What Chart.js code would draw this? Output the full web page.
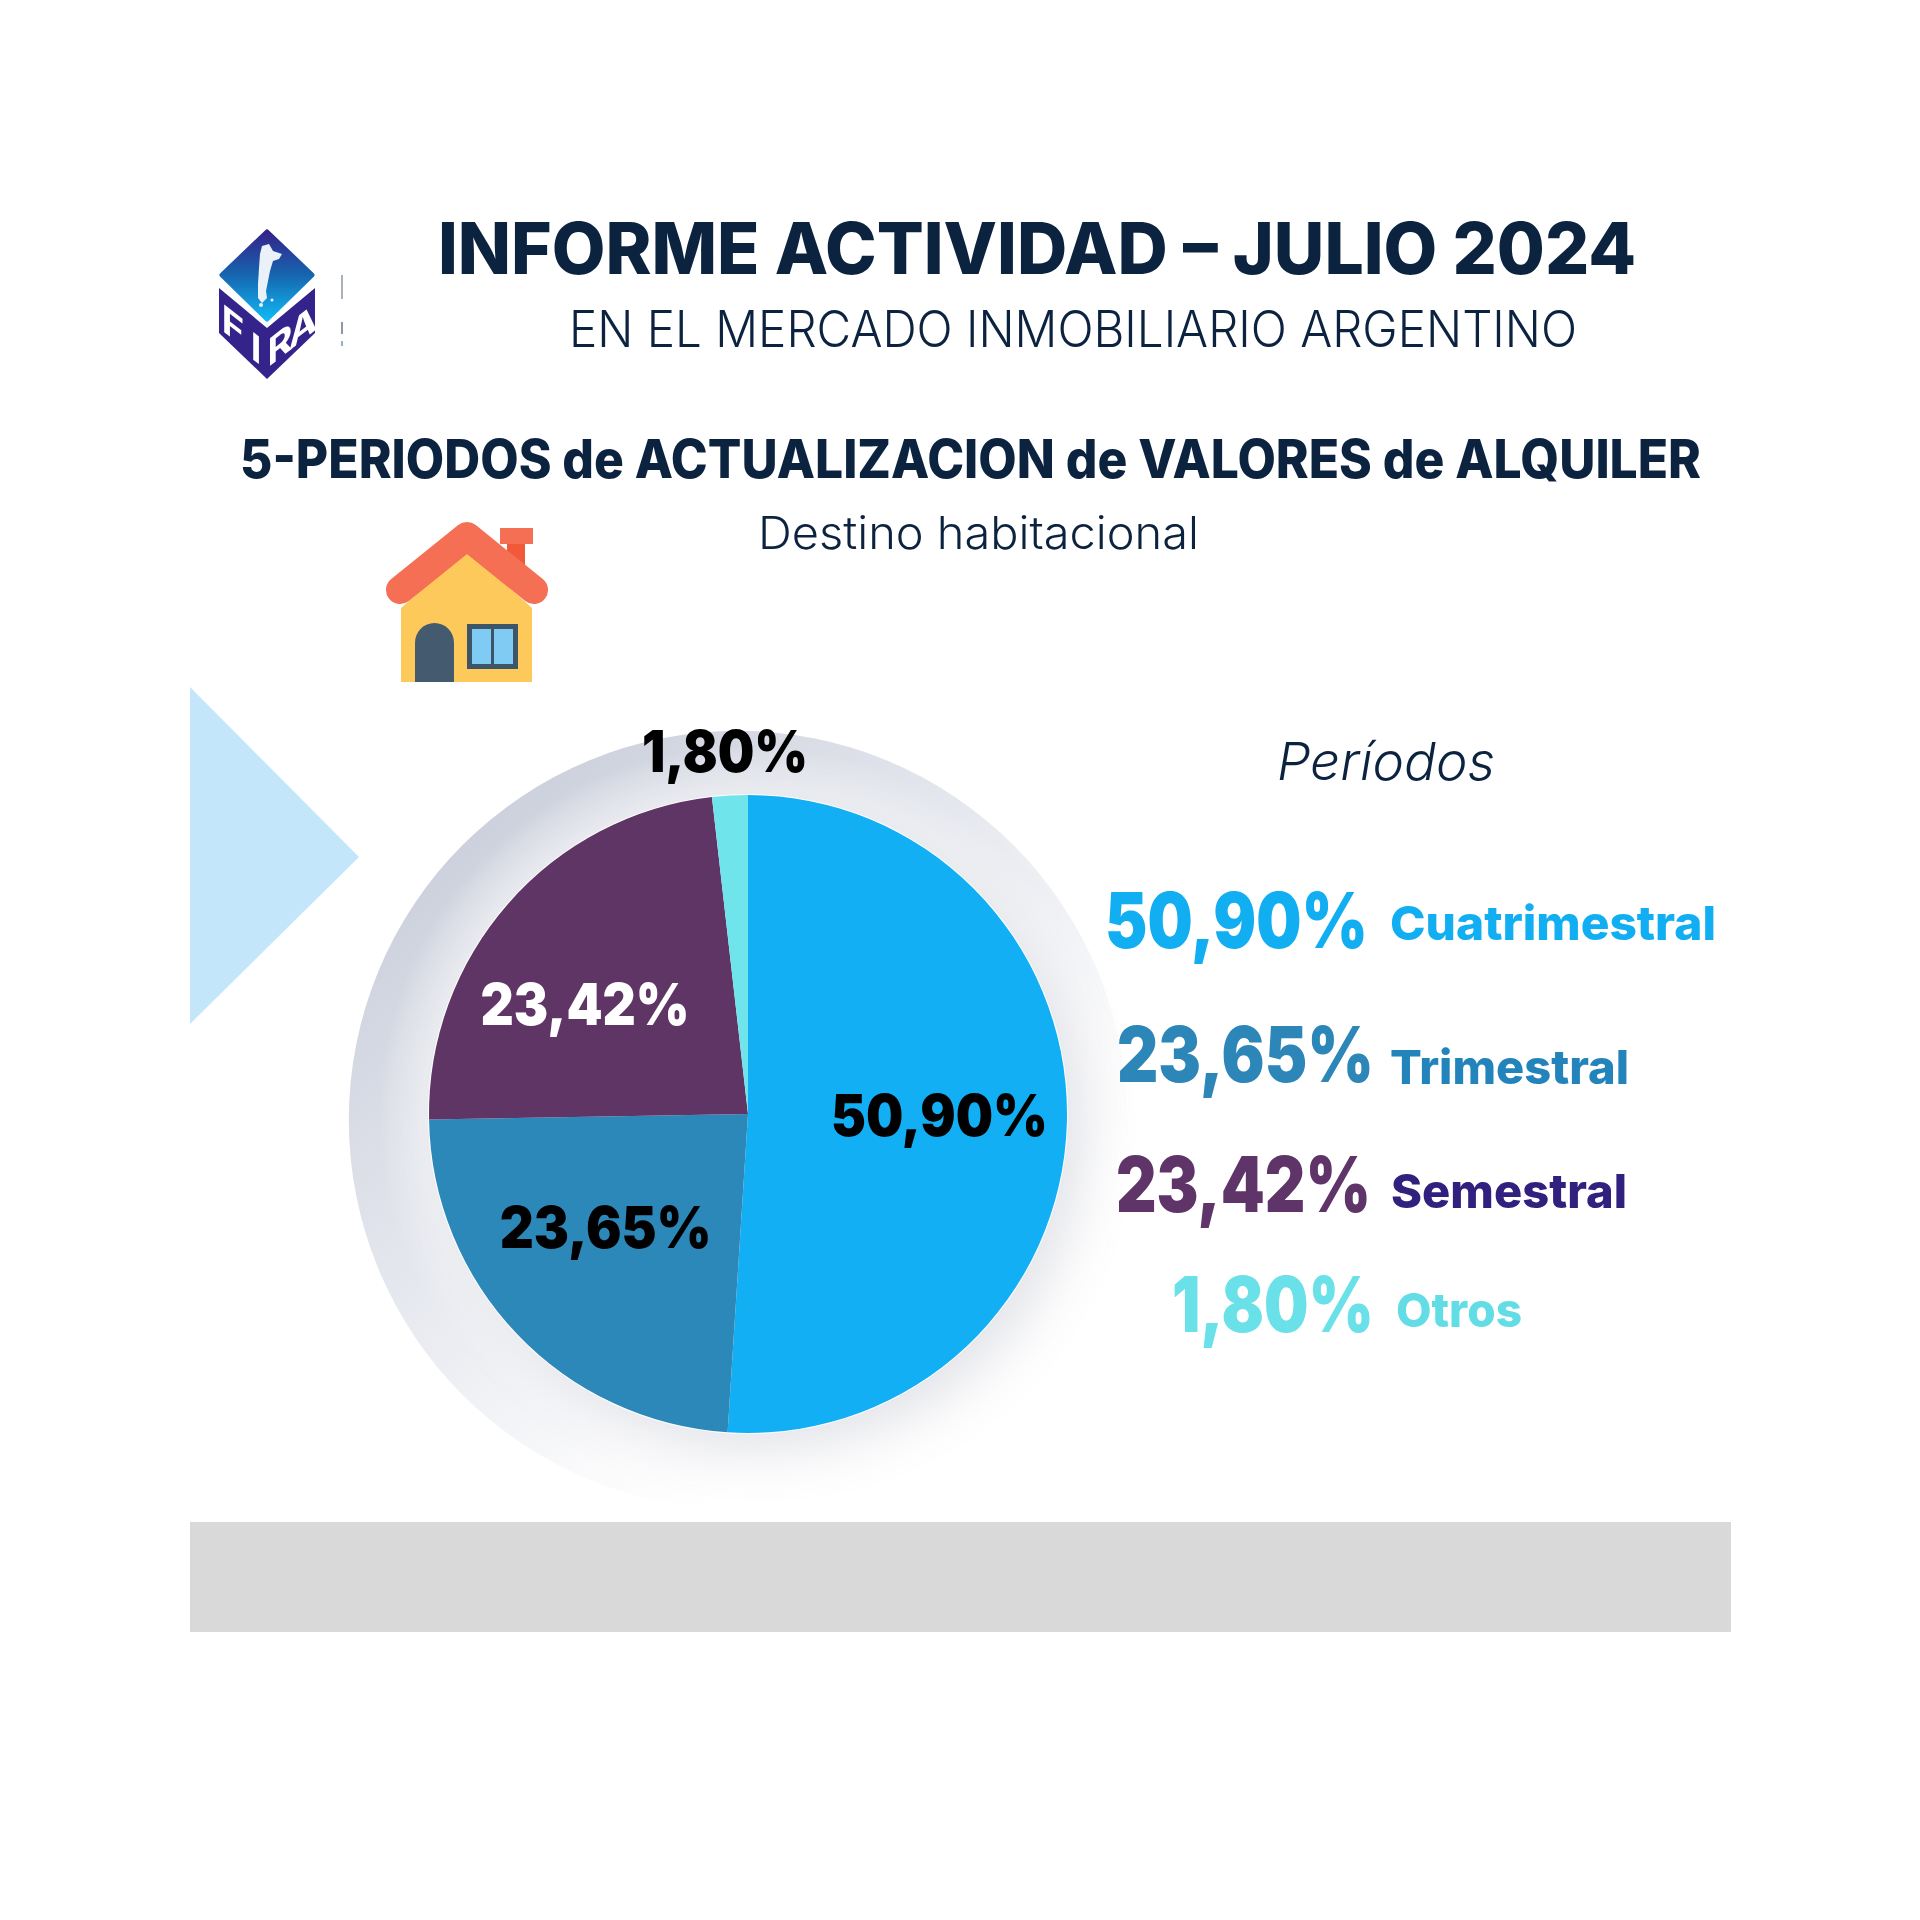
<!DOCTYPE html>
<html lang="es">
<head>
<meta charset="utf-8">
<title>Informe actividad - Julio 2024</title>
<script src="https://cdn.jsdelivr.net/npm/chart.js@4"></script>
<style>
html,body{margin:0;padding:0;background:#fff;width:1920px;height:1920px;overflow:hidden}
#stage{position:relative;width:1920px;height:1920px}
canvas,#overlay{position:absolute;left:0;top:0}
#overlay text{font-family:Inter,"Open Sans",sans-serif}
</style>
</head>
<body>
<div id="stage">
<canvas id="chart" width="1920" height="1920"></canvas>
<svg id="overlay" width="1920" height="1920" viewBox="0 0 1920 1920" xmlns="http://www.w3.org/2000/svg">
  <defs>
    <linearGradient id="logoTop" x1="0" y1="0" x2="0" y2="1">
      <stop offset="0" stop-color="#33238a"/><stop offset=".5" stop-color="#1666b0"/><stop offset="1" stop-color="#10b8f2"/>
    </linearGradient>
  </defs>
  <polygon points="190,687 359,857 190,1024" fill="#c3e6fb"/>
  <rect x="190" y="1522" width="1541" height="110" fill="#d9d9d9"/>
  <!-- logo -->
  <g>
    <polygon points="267,232 312,275 267,319 222,275" fill="url(#logoTop)" stroke="url(#logoTop)" stroke-width="5" stroke-linejoin="round"/>
    <path d="M262 246 l7 -2 l4 7 l9 3 l-3 5 l-6 2 l-3 10 l-2 10 l-2 10 l1 7 l-5 5 l-4 -5 l0 -14 l1 -16 l1 -14 z" fill="#eaf1f8"/>
    <circle cx="261" cy="305" r="2" fill="#eaf1f8"/>
    <circle cx="272" cy="300" r="1.5" fill="#eaf1f8"/>
    <polygon points="219,288 267,328 267,379 219,333" fill="#33238a"/>
    <polygon points="315,288 267,328 267,379 315,333" fill="#33238a"/>
    <text font-size="38" font-weight="700" fill="#fff" text-anchor="middle" transform="translate(233,339) skewY(38)">F</text>
    <text font-size="38" font-weight="700" fill="#fff" text-anchor="middle" transform="translate(256,362) skewY(38)">I</text>
    <text font-size="38" font-weight="700" fill="#fff" text-anchor="middle" transform="translate(280,358) skewY(-38)">R</text>
    <text font-size="38" font-weight="700" fill="#fff" text-anchor="middle" transform="translate(303,340) skewY(-38)">A</text>
    <rect x="341" y="275" width="2" height="24" fill="#a9b1bb"/>
    <rect x="341" y="322" width="2" height="12" fill="#8d98a5"/>
    <rect x="341" y="341" width="2" height="5" fill="#8fb4c4"/>
  </g>
  <!-- house -->
  <g>
    <rect x="507" y="540" width="18" height="42" fill="#f2583a"/>
    <rect x="500" y="528" width="33" height="16" fill="#f56f55"/>
    <polygon points="467,550 532,608 532,682 401,682 401,608" fill="#fdc95b"/>
    <path d="M400 590 L467 536 L534 590" fill="none" stroke="#f56f55" stroke-width="28" stroke-linecap="round" stroke-linejoin="round"/>
    <path d="M415 682 V643 a19.5 20 0 0 1 39 0 V682 Z" fill="#445a6f"/>
    <rect x="467" y="624" width="51" height="45" fill="#3e5468"/>
    <rect x="472" y="629" width="19" height="35" fill="#7fcbf3"/>
    <rect x="494" y="629" width="19" height="35" fill="#7fcbf3"/>
  </g>
</svg>
</div>
<script>
// ---- data ----
const categories = ['Cuatrimestral', 'Trimestral', 'Semestral', 'Otros'];
const shares = [50.90, 23.65, 23.42, 1.80];
const sliceColors = ['#12aff5', '#2d88ba', '#5f3566', '#6fe4eb'];
const percentColors = ['#12aef2', '#2c86b8', '#5f3468', '#6ae0e8'];
const nameColors = ['#12aef2', '#2284ba', '#32207f', '#62dde6'];
const sliceLabelColors = ['#000000', '#000000', '#ffffff', '#000000'];

const mainTitle = 'INFORME ACTIVIDAD – JULIO 2024';
const subTitle = 'EN EL MERCADO INMOBILIARIO ARGENTINO';
const sectionTitle = '5-PERIODOS de ACTUALIZACION de VALORES de ALQUILER';
const destino = 'Destino habitacional';
const legendTitle = 'Períodos';

const fmt = v => v.toFixed(2).replace('.', ',') + '%';

// ---- layout (pixel placement of the surrounding text) ----
const NS = 'http://www.w3.org/2000/svg';
const overlay = document.getElementById('overlay');
function addText(str, x, baseline, width, size, weight, fill, extra) {
  const t = document.createElementNS(NS, 'text');
  t.textContent = str;
  t.setAttribute('x', x);
  t.setAttribute('y', baseline);
  t.setAttribute('textLength', width);
  t.setAttribute('lengthAdjust', 'spacingAndGlyphs');
  t.setAttribute('font-size', size);
  t.setAttribute('font-weight', weight);
  t.setAttribute('fill', fill);
  if (extra) t.setAttribute('font-style', extra);
  overlay.appendChild(t);
}
addText(mainTitle, 438, 274, 1198, 72, 800, '#0c2340');
addText(subTitle, 569, 347, 1008, 50, 300, '#0c2340');
addText(sectionTitle, 240, 478, 1461, 53, 800, '#0c2340');
addText(destino, 758, 549, 441, 45, 300, '#0c2340');
addText(legendTitle, 1277, 780, 218, 52, 300, '#0c2340', 'italic');

const percentBoxes = [[1105, 948, 263], [1117, 1082, 257], [1116, 1212, 255], [1172, 1332, 202]];
const nameBoxes = [[1390, 940, 326, 47], [1390, 1084, 239, 47], [1391, 1208, 236, 47], [1396, 1327, 126, 47]];
categories.forEach((name, i) => {
  const p = percentBoxes[i], n = nameBoxes[i];
  addText(fmt(shares[i]), p[0], p[1], p[2], 77, 900, percentColors[i]);
  addText(name, n[0], n[1], n[2], n[3], 800, nameColors[i]);
});

// ---- chart plugins ----
const sliceLabelNudge = [[32, -1], [-27, 6], [-43, -1], [-14, -200]];
const sliceLabelWidth = [217, 212, 209, 166];

const haloPlugin = {
  id: 'halo',
  beforeDatasetsDraw(chart) {
    const ctx = chart.ctx;
    const arc = chart.getDatasetMeta(0).data[0];
    const cx = arc.x, cy = arc.y, R = arc.outerRadius;
    ctx.save();
    const hx = cx - 10, hy = cy + 6, hr = R * 1.22;
    const g = ctx.createLinearGradient(hx - hr * .6, hy - hr * .85, hx + hr * .7, hy + hr * .65);
    g.addColorStop(0, '#ccd0dc');
    g.addColorStop(.3, '#dfe2ea');
    g.addColorStop(.55, '#eef0f4');
    g.addColorStop(.75, '#fbfbfc');
    g.addColorStop(.88, '#ffffff');
    ctx.fillStyle = g;
    ctx.beginPath(); ctx.arc(hx, hy, hr, 0, Math.PI * 2); ctx.fill();
    // lighter band hugging the pie
    const glow = ctx.createRadialGradient(cx, cy, R, cx, cy, R + 50);
    glow.addColorStop(0, 'rgba(255,255,255,.6)');
    glow.addColorStop(1, 'rgba(255,255,255,0)');
    ctx.fillStyle = glow;
    ctx.beginPath(); ctx.arc(hx, hy, hr, 0, Math.PI * 2); ctx.fill();
    // soft shadow on the lower right, thin white edge under the pie
    ctx.shadowColor = 'rgba(95,100,125,.18)';
    ctx.shadowBlur = 55;
    ctx.shadowOffsetX = 16;
    ctx.shadowOffsetY = 16;
    ctx.fillStyle = '#ffffff';
    ctx.beginPath(); ctx.arc(cx, cy, R + 1, 0, Math.PI * 2); ctx.fill();
    ctx.restore();
  }
};

const sliceLabelPlugin = {
  id: 'sliceLabels',
  afterDatasetsDraw(chart) {
    const ctx = chart.ctx;
    chart.getDatasetMeta(0).data.forEach((arc, i) => {
      const c = arc.getCenterPoint();
      const text = fmt(shares[i]);
      ctx.save();
      ctx.font = '900 58px Inter, "Open Sans", sans-serif';
      ctx.fillStyle = sliceLabelColors[i];
      ctx.textAlign = 'center';
      ctx.textBaseline = 'middle';
      const sx = sliceLabelWidth[i] / ctx.measureText(text).width;
      ctx.translate(c.x + sliceLabelNudge[i][0], c.y + sliceLabelNudge[i][1]);
      ctx.scale(sx, 1);
      ctx.fillText(text, 0, 0);
      ctx.restore();
    });
  }
};

new Chart(document.getElementById('chart'), {
  type: 'pie',
  data: {
    labels: categories,
    datasets: [{ data: shares, backgroundColor: sliceColors, borderWidth: 0 }]
  },
  options: {
    responsive: false,
    animation: false,
    layout: { padding: { left: 429, right: 853, top: 795, bottom: 487 } },
    plugins: { legend: { display: false }, tooltip: { enabled: false }, title: { display: false } }
  },
  plugins: [haloPlugin, sliceLabelPlugin]
});
</script>
</body>
</html>
